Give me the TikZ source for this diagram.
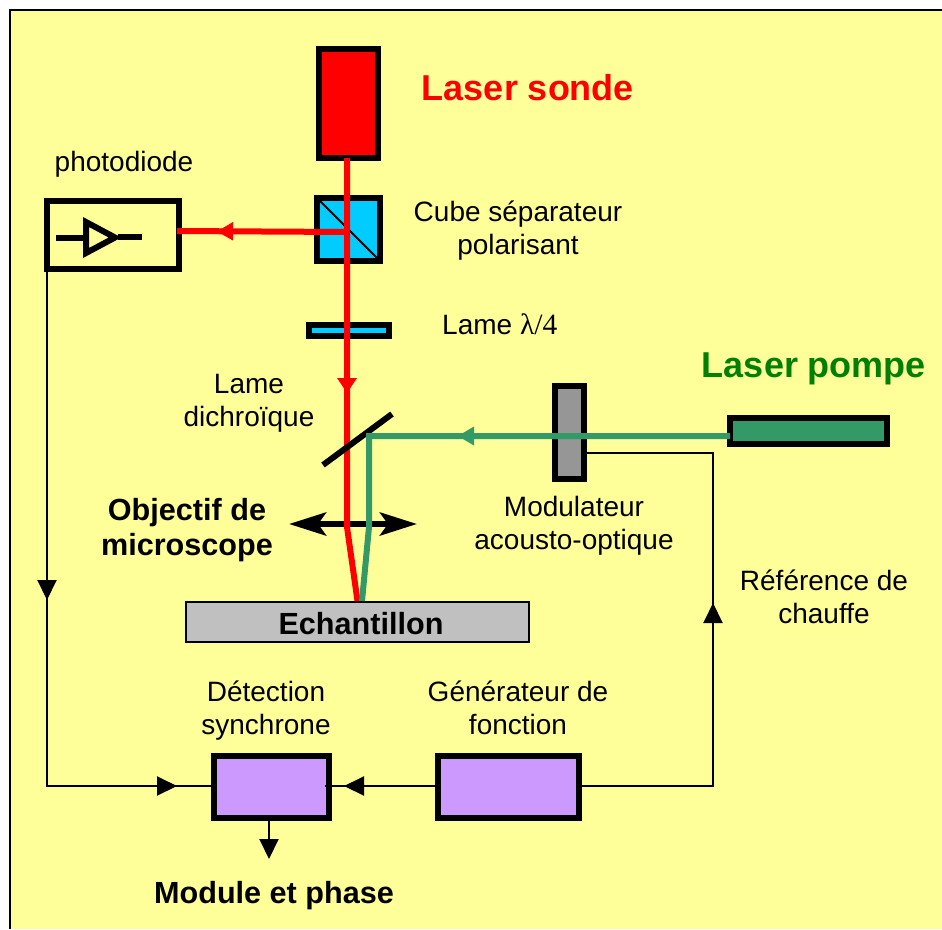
\documentclass[tikz,border=0pt]{standalone}
\usepackage{fontspec}
\setmainfont{Liberation Sans}
\newfontfamily\symfont{Liberation Serif}
\usetikzlibrary{arrows.meta}
\definecolor{bgyellow}{HTML}{FFFF99}
\definecolor{cubeblue}{HTML}{00CCFF}
\definecolor{pump}{HTML}{339966}
\definecolor{purp}{HTML}{CC99FF}
\definecolor{modgray}{HTML}{969696}
\definecolor{samplegray}{HTML}{C0C0C0}
\definecolor{pumptext}{HTML}{008000}
\tikzset{
  x=1pt,y=-1pt,
  optic/.style={draw=black,line width=6pt,line join=miter,inner sep=0pt,outer sep=0pt,anchor=north west},
  lab/.style={font=\fontsize{28}{33}\selectfont,align=center,text=black,inner sep=0pt},
  blab/.style={font=\fontsize{30.6}{35.5}\selectfont\bfseries,align=center,text=black,inner sep=0pt},
  titlelab/.style={font=\fontsize{36}{40}\selectfont\bfseries,inner sep=0pt},
  beamred/.style={draw=red,line width=6pt},
  beamgreen/.style={draw=pump,line width=6pt},
  wire/.style={draw=black,line width=2pt},
  wiretip/.style={-{Triangle[length=20pt,width=19pt]}},
}
\newcommand{\boxat}[6]{\node[optic,fill=#6,minimum width=#4pt,minimum height=#5pt] (#1) at (#2,#3) {};}
\begin{document}
\begin{tikzpicture}
\useasboundingbox (0,0) rectangle (942,929);
\fill[white] (0,0) rectangle (942,929);
\fill[bgyellow] (9.5,9.5) rectangle (942,929);
\draw[line width=2pt,draw=black] (9.5,929) -- (9.5,9.5) -- (942,9.5);

% optics
\boxat{sonde}{318.5}{49}{59.5}{109}{red}
\boxat{cube}{317}{198}{63}{63}{cubeblue}
\boxat{plate}{309}{325}{80}{11}{cubeblue}
\boxat{pompe}{730}{418}{157}{26}{pump}
\boxat{aom}{555}{386}{29}{93}{modgray}
\node[optic,minimum width=132pt,minimum height=68pt] (pd) at (47,201) {};
\node[draw=black,line width=2pt,fill=samplegray,minimum width=343pt,minimum height=40pt,inner sep=0pt,outer sep=0pt,anchor=north west] (ech) at (186,602) {};
\boxat{ds}{214}{756}{115}{62}{purp}
\boxat{gen}{438}{756}{141}{62}{purp}

\draw[line width=2pt] (cube.north west) -- (cube.south east);

% photodiode amplifier symbol
\draw[line width=6pt,line join=miter] (86,222) -- (86,253) -- (115,237.5) -- cycle;
\draw[line width=6pt] (56,238) -- (86,238);
\draw[line width=6pt] (118,237) -- (142,237);

% coordinates
\coordinate (focusr) at (357.5,601);
\coordinate (focusg) at (362,601);
\coordinate (bendr) at (347,527);
\coordinate (bendg) at (369,527);
\coordinate (mirg) at (369,436);
\coordinate (cubec) at (347,232);
\coordinate (pdin) at (177,231);

% lens
\coordinate (lensl) at (289,524);
\coordinate (lensr) at (417,524);
\draw[line width=6pt,{Stealth[length=37pt,width=23pt,inset=8pt]}-{Stealth[length=37pt,width=23pt,inset=8pt]}] (lensl) -- (lensr);

% red beam
\draw[beamred,line join=round] (sonde.south -| cubec) -- (bendr) -- (focusr);
\draw[beamred] (cubec) -- (pdin);
\fill[red] (337,378) -- (347,393) -- (357,378) -- cycle;
\fill[red] (233,222) -- (217,231.5) -- (233,240.5) -- cycle;

% dichroic mirror
\coordinate (mira) at (323,465);
\coordinate (mirb) at (392,414);
\draw[line width=6pt] (mira) -- (mirb);

% green beam
\draw[beamgreen,line join=miter] (pompe.west |- mirg) -- (mirg) -- (bendg) -- (focusg);
\fill[pump] (474,426.5) -- (458,436) -- (474,445.5) -- cycle;

% wires
\coordinate (aomout) at (587,453);
\coordinate (corner1) at (713,453);
\coordinate (corner2) at (713,786);
\coordinate (up) at (713,603);
\draw[wire,line join=miter] (gen.east |- corner2) -- (corner2) -- (corner1) -- (aomout);
\draw[wiretip,line width=2pt] (713,630) -- (up);
\coordinate (c3) at (47,786);
\draw[wire,line join=miter] (pd.south west -| c3) -- (c3) -- (ds.west |- c3);
\draw[wiretip,line width=2pt] (47,570) -- (47,600);
\draw[wiretip,line width=2pt] (140,786) -- (177,786);
\draw[wire] (325,786) -- (gen.west |- c3);
\draw[wiretip,line width=2pt] (385,786) -- (344,786);
\coordinate (dsout) at (269,859);
\draw[wiretip,line width=2pt] (ds.south -| dsout) -- (dsout);

% labels
\node[lab] (t1) at (124,164) {photodiode};
\node[titlelab,text=red] (t2) at (528,88) {Laser sonde};
\node[lab] (t3) at (518,230.5) {Cube séparateur\\polarisant};
\node[lab,anchor=base west] (t4) at (442,334) {Lame {\symfont\fontsize{29.5}{33}\selectfont λ/4}};
\node[lab] (t5) at (249,403) {Lame\\dichroïque};
\node[titlelab,text=pumptext] (t6) at (814,369) {Laser pompe};
\node[blab] (t7) at (187,530) {Objectif de\\microscope};
\node[lab] (t8) at (574,525.5) {Modulateur\\acousto-optique};
\node[lab] (t9) at (824,597) {Référence de\\chauffe};
\node[blab] (t10) at (361,623.5) {Echantillon};
\node[lab] (t11) at (266,711) {Détection\\synchrone};
\node[lab] (t12) at (518,708) {Générateur de\\fonction};
\node[blab] (t13) at (274,896) {Module et phase};
\end{tikzpicture}
\end{document}
